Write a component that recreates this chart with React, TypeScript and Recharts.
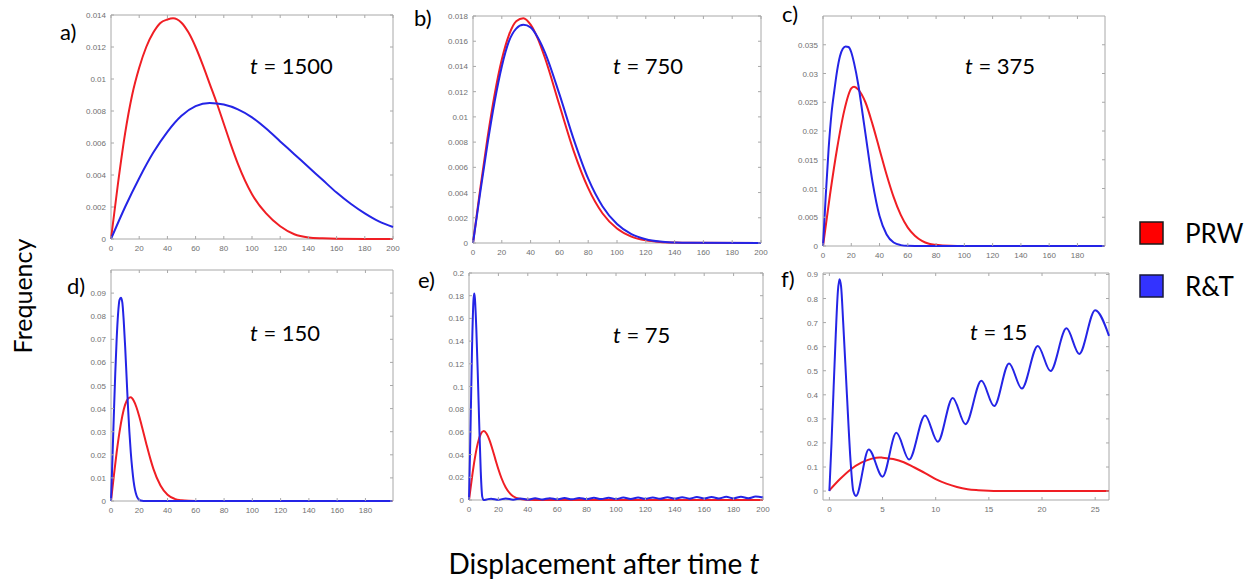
import { LineChart, Line, XAxis, YAxis, ReferenceArea } from "recharts";

const PRW_COLOR = "#f01e24";
const RT_COLOR = "#2424e6";
const BOX = "#a8a8a8";
const TICK_TEXT = "#707070";
const FONT = "Lato, 'Open Sans', sans-serif";

// a) t = 1500
const A_PRW_X = [0, 5, 10, 15, 20, 25, 30, 35, 40, 44, 50, 55, 60, 65, 70, 75, 80, 85, 90, 100, 110, 120, 130, 140, 150, 160, 180, 200];
const A_PRW = [0, 0.0035, 0.0066, 0.009, 0.0107, 0.012, 0.0129, 0.0135, 0.01372, 0.0138, 0.01352, 0.0129, 0.012, 0.0109, 0.0097, 0.0085, 0.0072, 0.0059, 0.0047, 0.0028, 0.0016, 0.0008, 0.0003, 0.0001, 0.00004, 0.00001, 0, 0];
const A_RT_X = [0, 10, 20, 30, 40, 50, 60, 70, 80, 90, 100, 110, 120, 130, 140, 150, 160, 170, 180, 190, 200];
const A_RT = [0, 0.002, 0.0038, 0.0054, 0.0067, 0.0077, 0.0083, 0.0085, 0.0084, 0.0081, 0.0076, 0.0069, 0.0061, 0.0053, 0.0045, 0.0037, 0.0029, 0.0022, 0.0016, 0.0011, 0.00075];

// b) t = 750
const B_X = [0, 5, 10, 15, 20, 25, 30, 35, 40, 45, 50, 60, 70, 80, 90, 100, 110, 120, 130, 140, 150, 200];
const B_PRW = [0, 0.00428, 0.00828, 0.01177, 0.01455, 0.01651, 0.01759, 0.01783, 0.01732, 0.01621, 0.01467, 0.01094, 0.00727, 0.00435, 0.00234, 0.00115, 0.00051, 0.00021, 0.00008, 0.00003, 0.00001, 0];
const B_RT = [0, 0.004, 0.0078, 0.0112, 0.014, 0.016, 0.017, 0.0173, 0.0171, 0.0163, 0.0151, 0.0118, 0.0082, 0.0051, 0.0029, 0.0015, 0.0007, 0.0003, 0.00011, 0.00004, 0.00001, 0];

// c) t = 375
const C_PRW_X = [0, 5, 10, 15, 20, 22, 25, 30, 35, 40, 45, 50, 55, 60, 65, 70, 75, 80, 90, 100, 199];
const C_PRW = [0, 0.009, 0.017, 0.0235, 0.0274, 0.0277, 0.0272, 0.025, 0.0212, 0.0168, 0.0124, 0.0085, 0.0054, 0.0032, 0.0018, 0.0009, 0.0004, 0.0002, 0.00003, 0, 0];
const C_RT_X = [0, 2, 4, 6, 8, 10, 12, 14, 16, 18, 20, 22, 25, 28, 30, 35, 40, 45, 50, 55, 60, 70, 199];
const C_RT = [0, 0.009, 0.017, 0.023, 0.027, 0.0305, 0.033, 0.0343, 0.0347, 0.0346, 0.0337, 0.0318, 0.028, 0.023, 0.0196, 0.0112, 0.0052, 0.002, 0.0006, 0.00015, 0.00003, 0, 0];

// d) t = 150
const D_PRW_X = [0, 2, 4, 6, 8, 10, 12, 14, 16, 18, 20, 22, 25, 28, 30, 35, 40, 45, 50, 55, 60, 199];
const D_PRW = [0, 0.0109, 0.021, 0.0298, 0.0368, 0.0417, 0.0443, 0.0449, 0.0435, 0.0406, 0.0366, 0.0319, 0.0247, 0.0179, 0.0139, 0.0067, 0.0027, 0.00095, 0.0003, 0.00007, 0.00002, 0];
const D_RT_X = [0, 1, 2, 3, 4, 5, 6, 7, 8, 9, 10, 11, 12, 13, 14, 15, 16, 17, 18, 19, 20, 22, 24, 26, 199];
const D_RT = [0, 0.018, 0.037, 0.055, 0.07, 0.081, 0.087, 0.088, 0.086, 0.078, 0.067, 0.054, 0.041, 0.03, 0.021, 0.014, 0.0085, 0.0048, 0.0025, 0.0012, 0.0005, 0.0001, 0, 0, 0];

// e) t = 75
const E_PRW_X = [0, 2, 4, 6, 8, 10, 12, 14, 16, 18, 20, 22, 25, 28, 30, 35, 40, 45, 50, 200];
const E_PRW = [0, 0.0196, 0.0369, 0.0501, 0.0581, 0.0607, 0.0584, 0.0526, 0.0445, 0.0356, 0.0271, 0.0196, 0.011, 0.0056, 0.0033, 0.0008, 0.00013, 0.00002, 0, 0];
const E_RT_X = [0, 1, 2, 3, 3.5, 4, 5, 6, 7, 8, 9, 10, 12, 15, 20, 25, 30, 35, 40, 45, 50, 55, 60, 65, 70, 75, 80, 85, 90, 95, 100, 105, 110, 115, 120, 125, 130, 135, 140, 145, 150, 155, 160, 165, 170, 175, 180, 185, 190, 195, 200];
const E_RT = [0, 0.06, 0.13, 0.175, 0.182, 0.178, 0.15, 0.11, 0.065, 0.025, 0.003, 0, 0.0005, 0.0012, 0.0002, 0.0013, 0.0003, 0.0014, 0.0004, 0.0015, 0.0005, 0.0016, 0.0006, 0.0017, 0.0006, 0.0018, 0.0007, 0.0019, 0.0008, 0.002, 0.0008, 0.0021, 0.0009, 0.0022, 0.001, 0.0023, 0.001, 0.0024, 0.0011, 0.0025, 0.0012, 0.0026, 0.0013, 0.0027, 0.0013, 0.0028, 0.0014, 0.0029, 0.0015, 0.003, 0.0022];

// f) t = 15
const F_PRW_X = [0, 1, 2, 3, 4, 4.7, 5, 6, 7, 8, 9, 10, 11, 12, 13, 14, 15, 16, 18, 26.3];
const F_PRW = [0.003, 0.05, 0.09, 0.118, 0.135, 0.14, 0.139, 0.133, 0.12, 0.098, 0.075, 0.05, 0.031, 0.017, 0.008, 0.004, 0.0015, 0.0005, 0, 0];
const F_RT_X = [0, 0.2, 0.4, 0.6, 0.8, 0.95, 1.1, 1.3, 1.65, 2.0, 2.25, 2.5, 3.7, 5.0, 6.3, 7.5, 9.0, 10.2, 11.6, 12.8, 14.3, 15.5, 16.9, 18.1, 19.6, 20.8, 22.3, 23.5, 25.0, 26.3];
const F_RT = [0, 0.2, 0.43, 0.65, 0.83, 0.88, 0.85, 0.7, 0.4, 0.12, 0, -0.02, 0.173, 0.06, 0.242, 0.131, 0.314, 0.205, 0.387, 0.278, 0.458, 0.353, 0.53, 0.426, 0.603, 0.499, 0.676, 0.57, 0.751, 0.645];

// tick labels
const TICKS_0_200 = [0, 20, 40, 60, 80, 100, 120, 140, 160, 180, 200];
const TICKS_0_180 = [0, 20, 40, 60, 80, 100, 120, 140, 160, 180];
const TICKS_F_X = [0, 5, 10, 15, 20, 25];
const A_Y = [0, 0.002, 0.004, 0.006, 0.008, 0.01, 0.012, 0.014];
const B_Y = [0, 0.002, 0.004, 0.006, 0.008, 0.01, 0.012, 0.014, 0.016, 0.018];
const C_Y = [0, 0.005, 0.01, 0.015, 0.02, 0.025, 0.03, 0.035];
const D_Y = [0, 0.01, 0.02, 0.03, 0.04, 0.05, 0.06, 0.07, 0.08, 0.09];
const E_Y = [0, 0.02, 0.04, 0.06, 0.08, 0.1, 0.12, 0.14, 0.16, 0.18, 0.2];
const F_Y = [0, 0.1, 0.2, 0.3, 0.4, 0.5, 0.6, 0.7, 0.8, 0.9];

type Pt = { x: number; y: number };
const zip = (xs: number[], ys: number[]): Pt[] => xs.map((x, i) => ({ x, y: ys[i] }));
const fmt = (v: number) => String(parseFloat(v.toFixed(4)));

const AX_W = 50;
const PAD_T = 10;

interface PanelProps {
  left: number;
  top: number;
  w: number;
  h: number;
  xDomain: [number, number];
  yDomain: [number, number];
  xTicks: number[];
  yTicks: number[];
  prw: Pt[];
  rt: Pt[];
}

function Panel(p: PanelProps) {
  const bottom = PAD_T + p.h;
  const yTick = (props: any) => {
    const { x, y, payload } = props;
    return (
      <g>
        <line x1={AX_W} x2={AX_W + 3} y1={y} y2={y} stroke={BOX} />
        <line x1={AX_W + p.w} x2={AX_W + p.w - 3} y1={y} y2={y} stroke={BOX} />
        <text x={x} y={y + 3} textAnchor="end" fontSize={8} fill={TICK_TEXT} fontFamily="'Liberation Sans', Arial, sans-serif">
          {fmt(payload.value)}
        </text>
      </g>
    );
  };
  const xTick = (props: any) => {
    const { x, payload } = props;
    return (
      <g>
        <line x1={x} x2={x} y1={bottom} y2={bottom - 3} stroke={BOX} />
        <line x1={x} x2={x} y1={PAD_T} y2={PAD_T + 3} stroke={BOX} />
        <text x={x} y={bottom + 12} textAnchor="middle" fontSize={8} fill={TICK_TEXT} fontFamily="'Liberation Sans', Arial, sans-serif">
          {fmt(payload.value)}
        </text>
      </g>
    );
  };
  return (
    <div style={{ position: "absolute", left: p.left - AX_W, top: p.top - PAD_T }}>
      <LineChart width={p.w + AX_W + 10} height={p.h + PAD_T + 20} margin={{ top: PAD_T, right: 10, bottom: 0, left: 0 }}>
        <XAxis type="number" dataKey="x" domain={p.xDomain} ticks={p.xTicks} interval={0} height={20}
          tickSize={0} tickMargin={0} axisLine={false} tickLine={false} tick={xTick} />
        <YAxis type="number" dataKey="y" domain={p.yDomain} ticks={p.yTicks} interval={0} width={AX_W}
          tickSize={0} tickMargin={5} axisLine={false} tickLine={false} tick={yTick} />
        <ReferenceArea x1={p.xDomain[0]} x2={p.xDomain[1]} y1={p.yDomain[0]} y2={p.yDomain[1]}
          fill="none" fillOpacity={0} stroke={BOX} strokeWidth={1} />
        <Line data={p.prw} dataKey="y" type="monotone" stroke={PRW_COLOR} strokeWidth={2} dot={false} activeDot={false} isAnimationActive={false} />
        <Line data={p.rt} dataKey="y" type="monotone" stroke={RT_COLOR} strokeWidth={2} dot={false} activeDot={false} isAnimationActive={false} />
      </LineChart>
    </div>
  );
}

const LABELS = [
  { t: "a)", x: 60, y: 40 },
  { t: "b)", x: 414, y: 26 },
  { t: "c)", x: 782, y: 22 },
  { t: "d)", x: 67, y: 294 },
  { t: "e)", x: 418, y: 288 },
  { t: "f)", x: 781, y: 287 },
];
const TITLES = [
  { n: "1500", x: 250, y: 74 },
  { n: "750", x: 613, y: 74 },
  { n: "375", x: 965, y: 74 },
  { n: "150", x: 250, y: 341 },
  { n: "75", x: 613, y: 343 },
  { n: "15", x: 970, y: 340 },
];

export default function App() {
  return (
    <div style={{ position: "absolute", left: 0, top: 0, width: 1255, height: 583, background: "#fff", overflow: "hidden" }}>
      <Panel left={111} top={15} w={282} h={224} xDomain={[0, 200]} yDomain={[0, 0.014]} xTicks={TICKS_0_200} yTicks={A_Y}
        prw={zip(A_PRW_X, A_PRW)} rt={zip(A_RT_X, A_RT)} />
      <Panel left={473} top={16} w={288} h={227} xDomain={[0, 200]} yDomain={[0, 0.018]} xTicks={TICKS_0_200} yTicks={B_Y}
        prw={zip(B_X, B_PRW)} rt={zip(B_X, B_RT)} />
      <Panel left={823} top={16} w={282} h={230} xDomain={[0, 199.5]} yDomain={[0, 0.04]} xTicks={TICKS_0_180} yTicks={C_Y}
        prw={zip(C_PRW_X, C_PRW)} rt={zip(C_RT_X, C_RT)} />
      <Panel left={111} top={270} w={282} h={231} xDomain={[0, 199.5]} yDomain={[0, 0.1]} xTicks={TICKS_0_180} yTicks={D_Y}
        prw={zip(D_PRW_X, D_PRW)} rt={zip(D_RT_X, D_RT)} />
      <Panel left={469} top={273} w={294} h={227} xDomain={[0, 200]} yDomain={[0, 0.2]} xTicks={TICKS_0_200} yTicks={E_Y}
        prw={zip(E_PRW_X, E_PRW)} rt={zip(E_RT_X, E_RT)} />
      <Panel left={823} top={273} w={286} h={227} xDomain={[-0.6, 26.3]} yDomain={[-0.037, 0.906]} xTicks={TICKS_F_X} yTicks={F_Y}
        prw={zip(F_PRW_X, F_PRW)} rt={zip(F_RT_X, F_RT)} />

      <svg width={1255} height={583} style={{ position: "absolute", left: 0, top: 0, pointerEvents: "none" }} fontFamily={FONT}>
        {LABELS.map((l) => (
          <text key={l.t} x={l.x} y={l.y} fontSize={22} fill="#000">{l.t}</text>
        ))}
        {TITLES.map((t) => (
          <text key={t.n} x={t.x} y={t.y} fontSize={22} fill="#000">
            <tspan fontStyle="italic">t</tspan> = {t.n}
          </text>
        ))}
        <text transform="translate(32, 296) rotate(-90)" textAnchor="middle" fontSize={25} fill="#000">Frequency</text>
        <text x={604} y={574} textAnchor="middle" fontSize={28} fill="#000">
          Displacement after time <tspan fontStyle="italic">t</tspan>
        </text>
        <rect x={1140} y={222} width={23} height={22} fill="#ff0000" stroke="#1a1a1a" strokeWidth={1.5} />
        <text x={1185} y={243} fontSize={26} fill="#000">PRW</text>
        <rect x={1140} y={275} width={23} height={22} fill="#3333ff" stroke="#1a1a3a" strokeWidth={1.5} />
        <text x={1185} y={296} fontSize={26} fill="#000">R&amp;T</text>
      </svg>
    </div>
  );
}
